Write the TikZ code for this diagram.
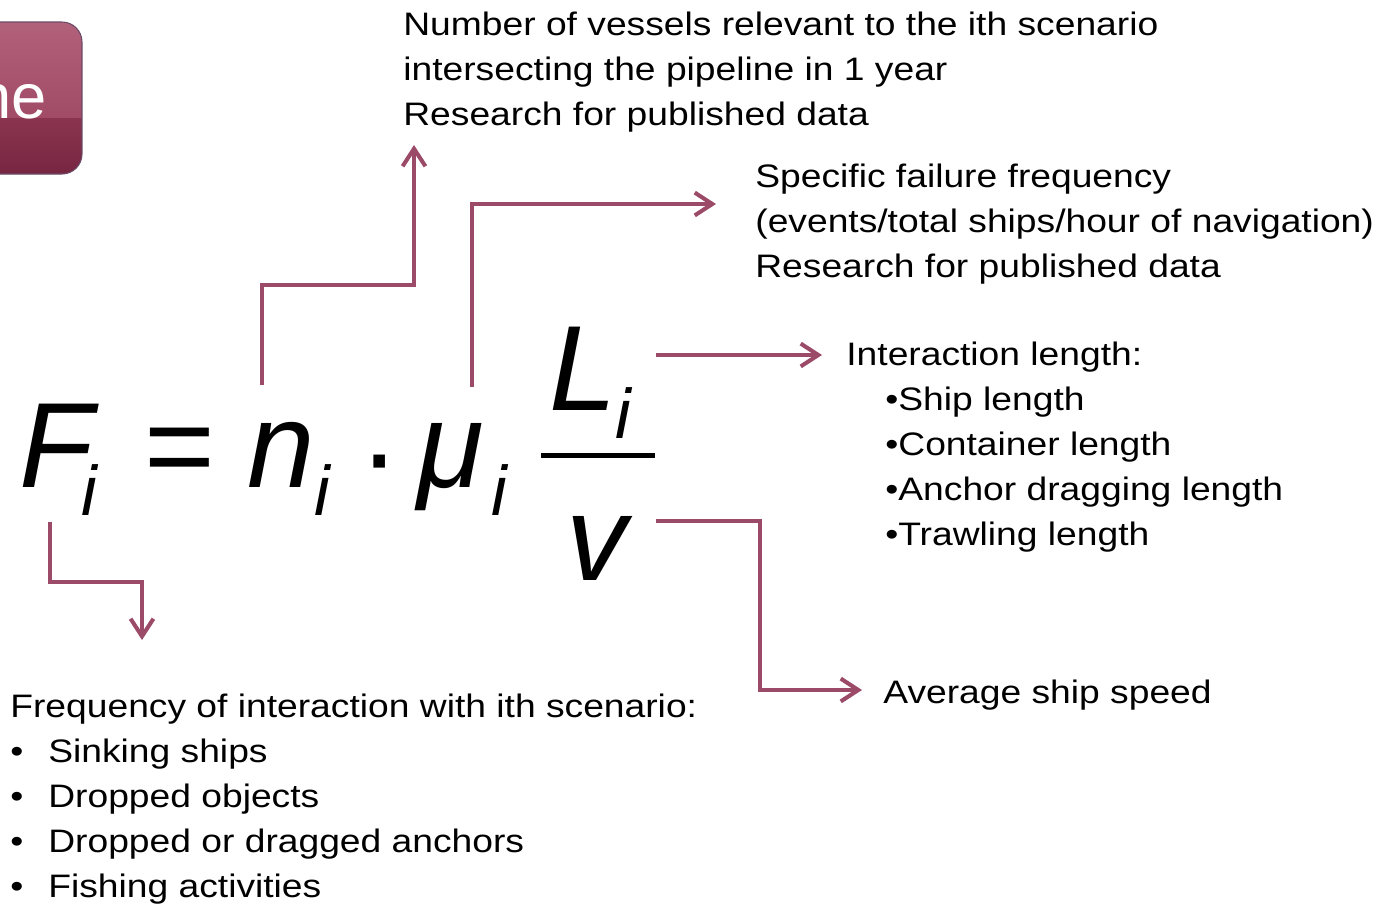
\documentclass[tikz,border=0pt]{standalone}
\usepackage{fontspec}
\setmainfont{Liberation Sans}[FakeStretch=1.145]
\newfontfamily\eqfont{Liberation Sans}
\usetikzlibrary{arrows.meta,positioning}
\definecolor{plum}{HTML}{9B4A68}
\definecolor{boxtop}{HTML}{B2617B}
\definecolor{boxmid}{HTML}{A14B67}
\definecolor{boxlow}{HTML}{8A3450}
\definecolor{boxbot}{HTML}{772641}
\definecolor{boxedge}{HTML}{6A4A66}
\tikzset{>={Straight Barb[length=10pt,width=13pt]},
  link/.style={->,draw=plum,line width=2.3pt},
  note/.style={anchor=north west,inner sep=0pt,align=left,
    font=\fontsize{18.5}{25.5}\selectfont},
  sym/.style={anchor=base west,inner sep=0pt,font=\eqfont\fontsize{69}{69}\selectfont\itshape},
  uprsym/.style={anchor=base west,inner sep=0pt,font=\eqfont\fontsize{69}{69}\selectfont},
  subsym/.style={anchor=base west,inner sep=0pt,font=\eqfont\fontsize{40}{40}\selectfont\itshape}}

\begin{document}
\begin{tikzpicture}[x=0.02cm,y=-0.02cm]
\path[use as bounding box] (0,0) rectangle (1391,904);
% tab in the corner
\begin{scope}
\clip[rounded corners=0.4cm] (-60,22) rectangle (82,174);
\shade[top color=boxtop,bottom color=boxmid] (-60,22) rectangle (82,118);
\shade[top color=boxlow,bottom color=boxbot] (-60,118) rectangle (82,174);
\end{scope}
\draw[boxedge,line width=.6pt,rounded corners=0.4cm] (-60,22) rectangle (82,174);
\node[anchor=base east,inner sep=0pt,text=white,font=\eqfont\fontsize{36}{36}\selectfont] (tab) at (47,118) {ne};

% formula
\node[sym] (Fsym) at (19,487) {F};
\node[subsym] (Fsub) at (81,515) {i};
\node[uprsym] (eqsym) at (144,487) {=};
\node[sym] (nsym) at (247,487) {n};
\node[subsym] (nsub) at (314,515) {i};
\node[uprsym] (dotsym) at (359,494) {·};
\node[sym] (musym) at (417,487) {μ};
\node[subsym] (musub) at (491,515) {i};
\node[sym] (Lsym) at (549,410) {L};
\node[subsym] (Lsub) at (615,438) {i};
\draw[line width=0.1cm] (541,455) -- (655,455);
\node[sym] (vsym) at (566,580) {v};

% notes
\node[note] (vessels) at (403,12) {Number of vessels relevant to the ith scenario\\intersecting the pipeline in 1 year\\Research for published data};
\node[note] (failure) at (755,164) {Specific failure frequency\\(events/total ships/hour of navigation)\\Research for published data};
\node[note] (intlen) at (846,342) {Interaction length:\\\hspace*{0.78cm}•Ship length\\\hspace*{0.78cm}•Container length\\\hspace*{0.78cm}•Anchor dragging length\\\hspace*{0.78cm}•Trawling length};
\node[note,anchor=base west] (speed) at (883,703) {Average ship speed};
\node[note] (freq) at (10,694) {Frequency of interaction with ith scenario:\\\makebox[0.76cm][l]{•}Sinking ships\\\makebox[0.76cm][l]{•}Dropped objects\\\makebox[0.76cm][l]{•}Dropped or dragged anchors\\\makebox[0.76cm][l]{•}Fishing activities};

% connectors
\coordinate (nfoot) at (262,385);
\coordinate (nhead) at (414,145);
\coordinate (mufoot) at (472,387);
\coordinate (muhead) at (716,204);
\coordinate (Lfoot) at (656,355);
\coordinate (Lhead) at (822,355);
\coordinate (vfoot) at (656,521);
\coordinate (vhead) at (862,690);
\coordinate (Ffoot) at (50,522);
\coordinate (Fhead) at (142,640);
\draw[link] (nfoot) -- (262,285) -| (nhead);
\draw[link] (mufoot) |- (muhead);
\draw[link] (Lfoot) -- (Lhead);
\draw[link] (vfoot) -| (760,690) -- (vhead);
\draw[link] (Ffoot) -- (50,582) -| (Fhead);
\end{tikzpicture}
\end{document}
